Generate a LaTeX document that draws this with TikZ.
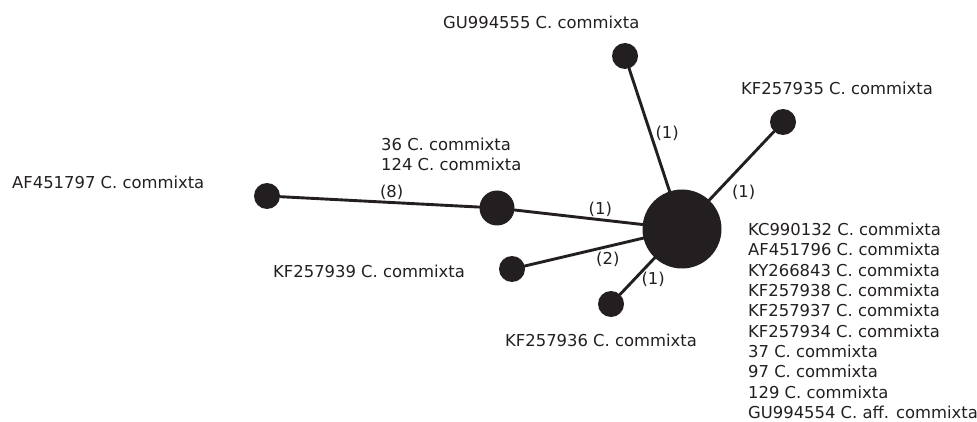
\documentclass[tikz,border=0pt]{standalone}
\usepackage{fontspec}
\setmainfont{DejaVu Sans}
\usetikzlibrary{positioning}
\definecolor{ink}{HTML}{231F20}
\begin{document}
\begin{tikzpicture}[x=1pt, y=-1pt, line join=round, line cap=round,
	font=\fontsize{16.4}{20.3}\selectfont, text=ink,
	hap/.style={circle, fill=ink, inner sep=0pt, minimum size=#1},
	link/.style={draw=ink, line width=2.9pt},
	elab/.style={inner sep=1.5pt},
	haptext/.style={anchor=base west, inner sep=0pt}]
	\useasboundingbox (0,0) rectangle (977,422);
	% haplotypes
	\node[hap=79pt] (c) at (682,229) {};
	\node[hap=35pt] (m) at (497,208) {};
	\node[hap=26pt] (af) at (267,196) {};
	\node[hap=26pt] (gu) at (625,56) {};
	\node[hap=26pt] (kf35) at (783,122) {};
	\node[hap=26pt] (kf39) at (512,269) {};
	\node[hap=26pt] (kf36) at (611,304) {};
	% links with mutation steps
	\path[link] (af) -- node[elab, pos=0.56, above] {(8)} (m);
	\path[link] (m) -- node[elab, pos=0.67, above] {(1)} (c);
	\path[link] (kf39) -- node[elab, pos=0.7, below=3pt] {(2)} (c);
	\path[link] (kf36) -- node[elab, pos=0.42, right=4pt] {(1)} (c);
	\path[link] (gu) -- node[elab, pos=0.53, right=2pt] {(1)} (c);
	\path[link] (kf35) -- node[elab, pos=0.74, below right=0pt and 3pt] {(1)} (c);
	% labels
	\node[haptext] (tgu) at (443,29) {GU994555 C. commixta};
	\node[haptext] (tkf35) at (741,95) {KF257935 C. commixta};
	\node[haptext] (tm) at (381,151) {36 C. commixta};
	\node[haptext] (tm2) at (381,171) {124 C. commixta};
	\node[haptext] (taf) at (12,189) {AF451797 C. commixta};
	\node[haptext] (tkf39) at (273,277) {KF257939 C. commixta};
	\node[haptext] (tkf36) at (505,346) {KF257936 C. commixta};
	\node[anchor=north west, inner sep=0pt, align=left] (tc) at (748,223)
		{KC990132 C. commixta\\AF451796 C. commixta\\KY266843 C. commixta\\
		KF257938 C. commixta\\KF257937 C. commixta\\KF257934 C. commixta\\
		37 C. commixta\\97 C. commixta\\129 C. commixta\\GU994554 C. aff. commixta};
\end{tikzpicture}
\end{document}
